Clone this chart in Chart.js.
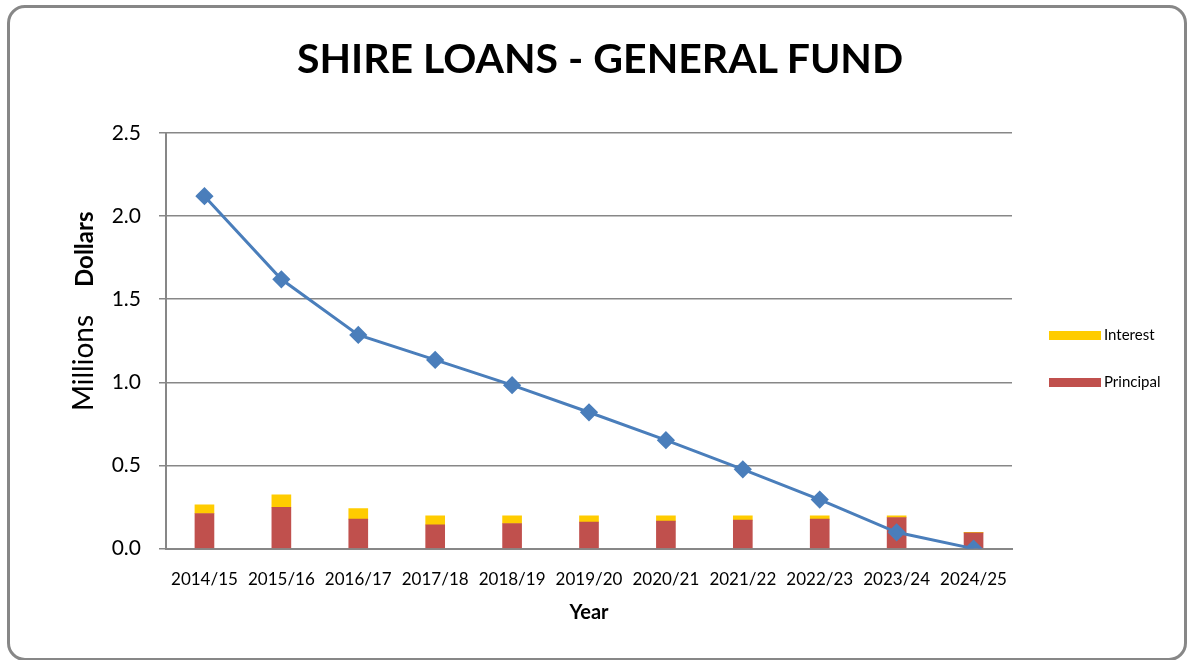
<!DOCTYPE html>
<html>
<head>
<meta charset="utf-8">
<script src="https://cdn.jsdelivr.net/npm/chart.js@4.4.0/dist/chart.umd.min.js"></script>
<style>
  html, body { margin: 0; padding: 0; background: #fff; }
  #wrap { position: relative; width: 1189px; height: 660px; overflow: hidden; }
  #frame {
    position: absolute; left: 7px; top: 5px; width: 1180px; height: 656px;
    border: 3px solid #878787; border-radius: 18px; box-sizing: border-box;
    pointer-events: none;
  }
  #chart { position: absolute; left: 0; top: 0; }
  #title {
    position: absolute; left: 600px; top: 57px; transform: translate(-50%, -50%);
    margin: 0; font: bold 41px Lato, sans-serif; color: #000; white-space: nowrap;
  }
  .leg { position: absolute; left: 1049px; font: 15px Lato, sans-serif; color: #000; }
  .leg span.sw { position: absolute; left: 0; width: 52px; height: 9px; }
  .leg span.tx { position: absolute; left: 55px; white-space: nowrap; }
</style>
</head>
<body>
<div id="wrap">
  <canvas id="chart" width="1189" height="660"></canvas>
  <h1 id="title">SHIRE LOANS - GENERAL FUND</h1>
  <div id="legend"></div>
  <div id="frame"></div>
</div>
<script>
const years = ["2014/15", "2015/16", "2016/17", "2017/18", "2018/19", "2019/20",
  "2020/21", "2021/22", "2022/23", "2023/24", "2024/25"];
// millions of dollars
const principal = [0.211, 0.249, 0.177, 0.143, 0.151, 0.159, 0.165, 0.171, 0.177, 0.187, 0.095];
const interest = [0.053, 0.075, 0.063, 0.054, 0.046, 0.038, 0.032, 0.026, 0.020, 0.010, 0.003];
const balance = [2.12, 1.62, 1.285, 1.135, 0.983, 0.82, 0.652, 0.477, 0.295, 0.098, 0.0];
const yTicks = [0, 0.5, 1.0, 1.5, 2.0, 2.5];

const FONT = "Lato, sans-serif";
const GRID = "#878787";

// rotated y-axis caption: "Millions" regular, "Dollars" bold
const yCaption = {
  id: "yCaption",
  afterDraw(chart) {
    const ctx = chart.ctx;
    ctx.save();
    ctx.translate(93, 301);
    ctx.rotate(-Math.PI / 2);
    ctx.fillStyle = "#000";
    ctx.textBaseline = "alphabetic";
    ctx.font = "28px " + FONT;
    ctx.textAlign = "right";
    ctx.fillText("Millions", -14, 0);
    ctx.font = "bold 24px " + FONT;
    ctx.textAlign = "left";
    ctx.fillText("Dollars", 14, 0);
    ctx.restore();
  }
};

const chart = new Chart(document.getElementById("chart"), {
  data: {
    labels: years,
    datasets: [
      {
        type: "line",
        label: "Balance",
        data: balance,
        stack: "balance",
        borderColor: "#4a7ebb",
        backgroundColor: "#4a7ebb",
        borderWidth: 3,
        pointStyle: "rectRot",
        pointRadius: 7,
        tension: 0,
        order: 0
      },
      {
        type: "bar",
        label: "Principal",
        data: principal,
        stack: "repay",
        backgroundColor: "#c0504d",
        barThickness: 19,
        order: 1
      },
      {
        type: "bar",
        label: "Interest",
        data: interest,
        stack: "repay",
        backgroundColor: "#ffcc00",
        barThickness: 19,
        order: 1
      }
    ]
  },
  options: {
    responsive: false,
    animation: false,
    layout: { padding: { top: 133, right: 177, bottom: 37, left: 0 } },
    plugins: {
      legend: { display: false },
      tooltip: { enabled: false }
    },
    scales: {
      x: {
        stacked: true,
        grid: { display: false, drawTicks: false },
        border: { color: GRID, width: 2 },
        ticks: { color: "#000", font: { family: FONT, size: 17 }, padding: 21, maxRotation: 0, autoSkip: false },
        title: {
          display: true, text: "Year", color: "#000",
          font: { family: FONT, size: 20, weight: "bold", lineHeight: 1.0 },
          padding: { top: -8, bottom: 0 }
        }
      },
      y: {
        stacked: true,
        min: 0,
        max: 2.5,
        afterBuildTicks(scale) { scale.ticks = yTicks.map(v => ({ value: v })); },
        afterFit(scale) { scale.width = 166; },
        grid: { color: GRID, lineWidth: 1.5, tickLength: 7 },
        border: { color: GRID, width: 2 },
        ticks: {
          color: "#000",
          font: { family: FONT, size: 21 },
          padding: 18,
          callback: v => Number(v).toFixed(1)
        }
      }
    }
  },
  plugins: [yCaption]
});

// legend for the repayment bars
const legend = document.getElementById("legend");
[["Interest", "#ffcc00", 331], ["Principal", "#c0504d", 378]].forEach(([name, color, top]) => {
  const d = document.createElement("div");
  d.className = "leg";
  d.style.top = top + "px";
  d.innerHTML = '<span class="sw" style="background:' + color + '"></span>' +
    '<span class="tx" style="top:-6px">' + name + "</span>";
  legend.appendChild(d);
});
</script>
</body>
</html>
